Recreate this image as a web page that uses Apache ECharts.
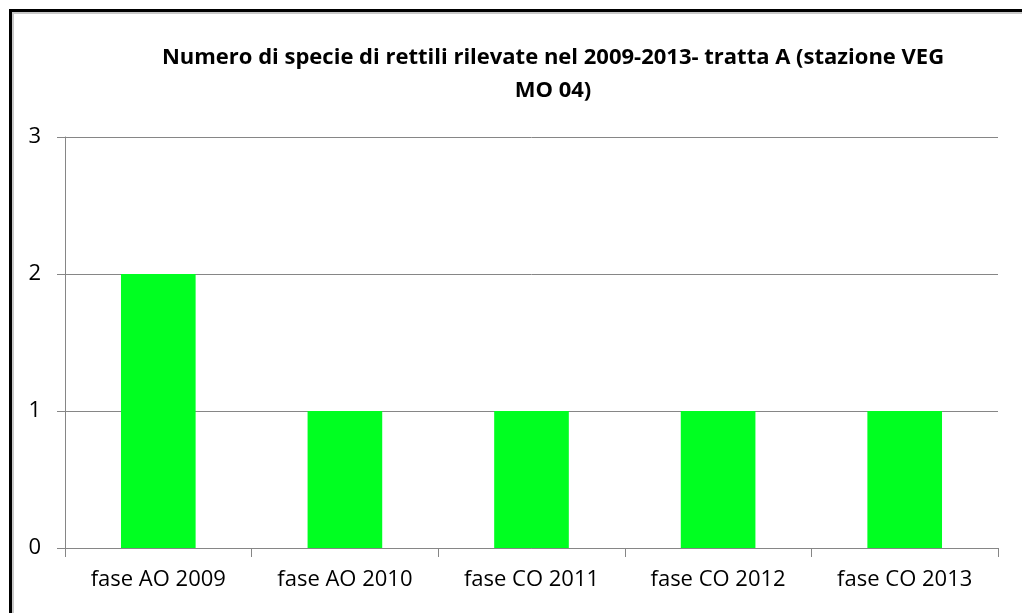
<!DOCTYPE html>
<html>
<head>
<meta charset="utf-8">
<script src="https://cdn.jsdelivr.net/npm/echarts@6/dist/echarts.min.js"></script>
<style>
html, body { margin: 0; padding: 0; background: #fff; overflow: hidden; }
#frame {
	position: absolute; left: 9px; top: 9px; width: 1030px; height: 620px;
	border-left: 3px solid #000; border-top: 3px solid #000;
	box-shadow: inset 2px 2px 0 #c8c8c8;
}
#main { position: absolute; left: 0; top: 0; width: 1022px; height: 613px; }
</style>
</head>
<body>
<div id="frame"></div>
<div id="main"></div>
<script>
var categories = ['fase AO 2009', 'fase AO 2010', 'fase CO 2011', 'fase CO 2012', 'fase CO 2013'];
var speciesCount = [2, 1, 1, 1, 1];
var titleText = 'Numero di specie di rettili rilevate nel 2009-2013- tratta A (stazione VEG\nMO 04)';

var myChart = echarts.init(document.getElementById('main'));
var option = {
	animation: false,
	title: {
		text: titleText,
		left: 548,
		top: 36,
		textAlign: 'center',
		textStyle: {
			fontFamily: 'Open Sans',
			fontWeight: 'bold',
			fontSize: 22,
			lineHeight: 33,
			color: '#000'
		}
	},
	grid: {
		left: 65,
		right: 24,
		top: 137,
		bottom: 65
	},
	xAxis: {
		type: 'category',
		data: categories,
		axisLine: { lineStyle: { color: '#868686', width: 1 } },
		axisTick: { show: true, length: 9, lineStyle: { color: '#868686' } },
		axisLabel: {
			fontFamily: 'Open Sans',
			fontSize: 22,
			color: '#000',
			margin: 21
		}
	},
	yAxis: {
		type: 'value',
		min: 0,
		max: 3,
		interval: 1,
		axisLine: { show: true, lineStyle: { color: '#868686', width: 1 } },
		axisTick: { show: true, length: 8, lineStyle: { color: '#868686' } },
		splitLine: { show: true, lineStyle: { color: '#868686', width: 1 } },
		axisLabel: {
			fontFamily: 'Open Sans',
			fontSize: 22,
			color: '#000',
			margin: 24
		}
	},
	series: [{
		type: 'bar',
		data: speciesCount,
		barWidth: '40%',
		itemStyle: { color: '#00ff21' }
	}]
};
myChart.setOption(option);
</script>
</body>
</html>
